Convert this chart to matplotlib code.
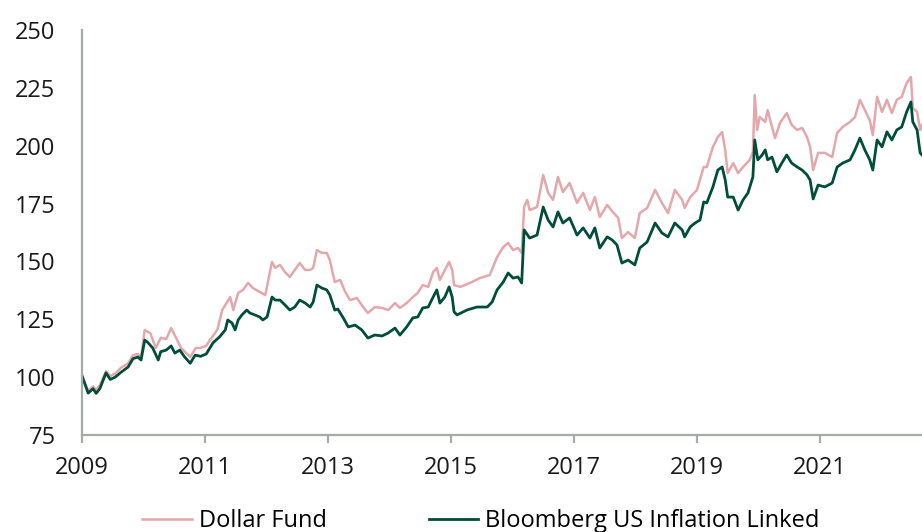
import matplotlib
matplotlib.use("Agg")
import matplotlib.pyplot as plt

plt.rcParams['font.family'] = ['Open Sans', 'DejaVu Sans']

# Decimal-year dates and index values
fund_dates = [2009.00, 2009.10, 2009.18, 2009.23, 2009.29, 2009.39, 2009.46, 2009.54, 2009.63, 2009.75,
              2009.83, 2009.91, 2009.96, 2010.02, 2010.11, 2010.20, 2010.28, 2010.37, 2010.45, 2010.53,
              2010.61, 2010.76, 2010.85, 2010.92, 2011.02, 2011.08, 2011.20, 2011.28, 2011.36, 2011.41,
              2011.46, 2011.54, 2011.62, 2011.70, 2011.78, 2011.89, 2011.98, 2012.02, 2012.09, 2012.14,
              2012.22, 2012.30, 2012.38, 2012.46, 2012.54, 2012.63, 2012.71, 2012.76, 2012.82, 2012.90,
              2012.98, 2013.03, 2013.11, 2013.20, 2013.28, 2013.36, 2013.47, 2013.57, 2013.65, 2013.76,
              2013.88, 2013.98, 2014.09, 2014.17, 2014.28, 2014.38, 2014.46, 2014.54, 2014.63, 2014.71,
              2014.77, 2014.82, 2014.90, 2014.97, 2015.02, 2015.05, 2015.15, 2015.31, 2015.47, 2015.63,
              2015.75, 2015.85, 2015.93, 2016.01, 2016.09, 2016.15, 2016.19, 2016.24, 2016.28, 2016.40,
              2016.50, 2016.58, 2016.66, 2016.74, 2016.82, 2016.93, 2017.05, 2017.15, 2017.26, 2017.34,
              2017.42, 2017.54, 2017.63, 2017.72, 2017.78, 2017.88, 2017.99, 2018.07, 2018.19, 2018.32,
              2018.43, 2018.53, 2018.64, 2018.76, 2018.80, 2018.89, 2019.00, 2019.11, 2019.16, 2019.26,
              2019.34, 2019.41, 2019.46, 2019.50, 2019.59, 2019.67, 2019.75, 2019.86, 2019.91, 2019.94,
              2019.98, 2020.02, 2020.11, 2020.15, 2020.22, 2020.27, 2020.35, 2020.46, 2020.54, 2020.63,
              2020.71, 2020.79, 2020.84, 2020.89, 2020.97, 2021.08, 2021.20, 2021.28, 2021.37, 2021.49,
              2021.57, 2021.65, 2021.73, 2021.81, 2021.86, 2021.93, 2022.01, 2022.09, 2022.17, 2022.25,
              2022.33, 2022.41, 2022.48, 2022.51, 2022.58, 2022.63, 2022.66]
fund_values = [100.6, 94.0, 96.0, 94.5, 96.5, 102.5, 100.5, 101.5, 104.0, 106.0,
               109.5, 110.0, 108.5, 120.4, 119.0, 112.6, 117.0, 116.5, 121.2, 117.0,
               112.6, 108.7, 112.6, 112.6, 113.5, 116.0, 120.4, 129.0, 132.5, 134.6,
               129.0, 136.4, 137.7, 140.7, 138.5, 136.8, 135.5, 140.7, 149.8, 147.2,
               148.5, 145.4, 143.3, 146.3, 149.3, 146.3, 146.3, 147.2, 154.9, 153.7,
               153.7, 150.6, 141.1, 142.0, 136.8, 133.3, 134.2, 130.3, 127.7, 130.3,
               129.9, 129.0, 132.0, 129.9, 132.0, 134.6, 136.4, 139.8, 139.0, 145.4,
               147.2, 142.0, 146.3, 149.8, 146.3, 139.8, 139.0, 140.7, 142.8, 144.1,
               151.9, 156.2, 158.0, 154.9, 155.8, 153.7, 173.5, 176.6, 172.2, 173.5,
               187.4, 179.6, 176.6, 186.5, 180.0, 183.9, 175.3, 179.6, 172.2, 177.8,
               169.2, 174.4, 171.4, 168.8, 160.1, 162.7, 160.1, 170.9, 173.1, 180.9,
               175.3, 170.9, 180.9, 176.6, 173.1, 177.8, 180.9, 190.8, 190.8, 199.5,
               203.8, 205.9, 198.2, 188.2, 192.5, 188.2, 190.8, 193.9, 197.3, 221.9,
               206.8, 212.4, 210.3, 215.4, 208.1, 203.3, 209.8, 214.1, 209.0, 206.8,
               207.7, 203.8, 199.5, 189.5, 196.9, 196.9, 195.1, 205.5, 208.1, 210.3,
               212.4, 219.8, 215.4, 211.1, 204.6, 221.1, 214.6, 219.8, 214.1, 219.8,
               221.1, 227.1, 229.7, 216.3, 214.6, 206.8, 209.0]

index_dates = [2009.00, 2009.10, 2009.18, 2009.23, 2009.29, 2009.39, 2009.46, 2009.54, 2009.63, 2009.75,
               2009.83, 2009.91, 2009.96, 2010.02, 2010.07, 2010.15, 2010.24, 2010.28, 2010.37, 2010.45,
               2010.51, 2010.59, 2010.67, 2010.76, 2010.84, 2010.93, 2011.02, 2011.13, 2011.24, 2011.33,
               2011.37, 2011.44, 2011.49, 2011.54, 2011.60, 2011.68, 2011.73, 2011.81, 2011.89, 2011.94,
               2012.01, 2012.09, 2012.14, 2012.22, 2012.30, 2012.38, 2012.46, 2012.54, 2012.63, 2012.71,
               2012.76, 2012.82, 2012.90, 2012.98, 2013.03, 2013.11, 2013.16, 2013.24, 2013.33, 2013.44,
               2013.55, 2013.65, 2013.76, 2013.88, 2013.98, 2014.09, 2014.17, 2014.28, 2014.38, 2014.46,
               2014.54, 2014.63, 2014.71, 2014.77, 2014.82, 2014.90, 2014.97, 2015.02, 2015.05, 2015.10,
               2015.26, 2015.42, 2015.59, 2015.67, 2015.75, 2015.85, 2015.93, 2016.01, 2016.09, 2016.15,
               2016.19, 2016.28, 2016.40, 2016.50, 2016.58, 2016.66, 2016.74, 2016.82, 2016.93, 2017.05,
               2017.15, 2017.26, 2017.34, 2017.42, 2017.54, 2017.62, 2017.70, 2017.78, 2017.88, 2017.99,
               2018.07, 2018.19, 2018.32, 2018.43, 2018.53, 2018.64, 2018.76, 2018.80, 2018.89, 2018.97,
               2019.05, 2019.11, 2019.16, 2019.26, 2019.34, 2019.41, 2019.46, 2019.50, 2019.59, 2019.67,
               2019.75, 2019.83, 2019.91, 2019.94, 2019.99, 2020.06, 2020.11, 2020.15, 2020.22, 2020.30,
               2020.38, 2020.46, 2020.54, 2020.63, 2020.71, 2020.79, 2020.84, 2020.89, 2020.97, 2021.08,
               2021.20, 2021.28, 2021.37, 2021.49, 2021.57, 2021.65, 2021.73, 2021.81, 2021.86, 2021.93,
               2022.01, 2022.09, 2022.17, 2022.25, 2022.33, 2022.41, 2022.48, 2022.51, 2022.58, 2022.63,
               2022.66]
index_values = [100.6, 93.1, 95.0, 93.0, 95.0, 101.8, 99.0, 100.0, 102.0, 104.4,
                108.0, 108.7, 107.4, 116.0, 115.0, 112.6, 107.4, 111.0, 111.7, 113.5,
                110.4, 111.7, 108.7, 106.0, 109.5, 109.0, 110.0, 114.8, 117.5, 120.4,
                124.7, 123.4, 120.4, 124.7, 126.9, 129.0, 127.7, 126.9, 126.0, 124.7,
                126.0, 134.6, 133.3, 133.3, 131.2, 129.0, 130.3, 133.3, 132.0, 130.3,
                132.5, 139.8, 138.5, 137.7, 135.5, 129.0, 129.4, 126.0, 121.7, 122.5,
                120.4, 116.9, 118.2, 117.8, 119.1, 121.2, 118.2, 121.7, 125.6, 126.0,
                129.9, 130.3, 134.6, 137.7, 132.0, 134.6, 139.0, 134.6, 128.2, 126.9,
                129.0, 130.3, 130.3, 132.5, 137.7, 141.1, 145.0, 142.8, 143.3, 140.7,
                163.6, 160.1, 161.4, 173.5, 167.9, 164.9, 171.4, 166.6, 168.8, 161.4,
                164.5, 160.1, 164.5, 155.8, 160.6, 159.3, 157.1, 149.3, 150.6, 148.5,
                155.8, 158.4, 166.6, 162.3, 160.6, 166.6, 163.6, 160.6, 164.9, 166.6,
                167.9, 175.7, 175.3, 182.2, 189.5, 190.8, 185.2, 177.8, 177.8, 172.2,
                176.6, 179.6, 186.5, 202.5, 193.9, 196.0, 198.2, 193.9, 195.1, 188.7,
                192.5, 196.0, 192.5, 190.8, 189.5, 187.4, 185.2, 177.0, 183.0, 182.2,
                183.9, 190.8, 192.5, 193.9, 198.2, 203.3, 198.2, 193.9, 189.5, 202.5,
                199.5, 206.0, 202.5, 206.8, 208.1, 214.6, 218.9, 210.3, 206.8, 196.9,
                196.0]

series_labels = ["Dollar Fund", "Bloomberg US Inflation Linked"]
x_ticks = [2009, 2011, 2013, 2015, 2017, 2019, 2021]
y_ticks = [75, 100, 125, 150, 175, 200, 225, 250]

PINK = "#E4A7AA"
GREEN = "#004D3A"
AXIS = "#A3ADA6"

fig = plt.figure(figsize=(9.22, 5.32), dpi=100)
ax = fig.add_axes([82 / 922, 97 / 532, 840 / 922, 405 / 532])

ax.plot(fund_dates, fund_values, color=PINK, lw=1.8, label=series_labels[0])
ax.plot(index_dates, index_values, color=GREEN, lw=2.0, label=series_labels[1])

ax.set_xlim(2009, 2022.66)
ax.set_ylim(75, 250)
ax.set_xticks(x_ticks)
ax.set_xticklabels([str(t) for t in x_ticks])
ax.set_yticks(y_ticks)
ax.set_yticklabels([str(t) for t in y_ticks])

for s in ["top", "right"]:
    ax.spines[s].set_visible(False)
for s in ["left", "bottom"]:
    ax.spines[s].set_color(AXIS)
    ax.spines[s].set_linewidth(1.6)

ax.tick_params(axis="x", length=6, width=1.6, color=AXIS, pad=9, labelsize=17, labelcolor="#1a1a1a")
ax.tick_params(axis="y", length=0, pad=19, labelsize=17, labelcolor="#1a1a1a")

fig.legend(loc="center", bbox_to_anchor=(481 / 922, 11 / 532), ncol=2, frameon=False,
           fontsize=17, handlelength=2.1, handletextpad=0.3, columnspacing=4.3,
           borderaxespad=0, borderpad=0)

fig.savefig("out.png", dpi=100)
